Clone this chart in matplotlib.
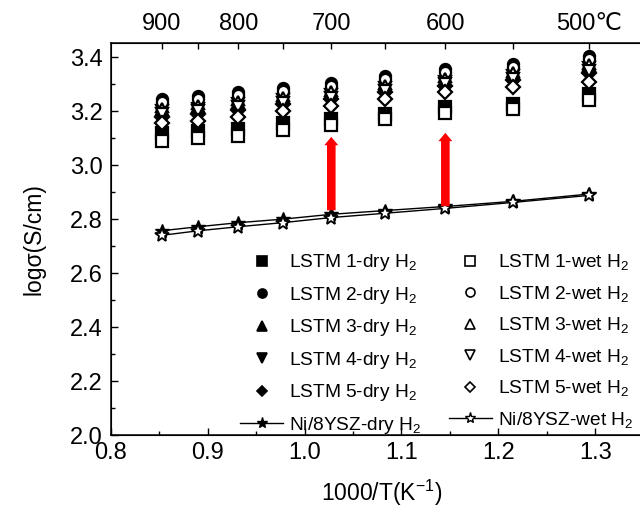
import matplotlib
matplotlib.use("Agg")
import matplotlib.pyplot as plt
from matplotlib.lines import Line2D
import numpy as np

plt.rcParams['font.family'] = ['Liberation Sans', 'DejaVu Sans']
plt.rcParams['mathtext.fontset'] = 'custom'
plt.rcParams['mathtext.rm'] = 'Liberation Sans'
plt.rcParams['mathtext.it'] = 'Liberation Sans:italic'

# Temperatures (deg C) of the measurements
temps_c = [900, 850, 800, 750, 700, 650, 600, 550, 500]
top_label_temps = [900, 800, 700, 600, 500]
top_labels = ['900', '800', '700', '600', '500℃']

# log(sigma) values (S/cm)
lstm1_dry = [3.120, 3.125, 3.135, 3.155, 3.170, 3.190, 3.215, 3.225, 3.265]
lstm1_wet = [3.090, 3.100, 3.110, 3.130, 3.150, 3.170, 3.195, 3.210, 3.240]
lstm2_dry = [3.245, 3.255, 3.270, 3.285, 3.305, 3.330, 3.355, 3.375, 3.405]
lstm2_wet = [3.235, 3.245, 3.260, 3.275, 3.295, 3.320, 3.345, 3.365, 3.395]
lstm3_dry = [3.220, 3.230, 3.245, 3.260, 3.280, 3.305, 3.330, 3.350, 3.380]
lstm3_wet = [3.210, 3.220, 3.235, 3.250, 3.270, 3.295, 3.320, 3.340, 3.370]
lstm4_dry = [3.200, 3.210, 3.225, 3.240, 3.260, 3.285, 3.310, 3.330, 3.360]
lstm4_wet = [3.190, 3.200, 3.215, 3.230, 3.250, 3.275, 3.300, 3.320, 3.350]
lstm5_dry = [3.180, 3.190, 3.205, 3.225, 3.245, 3.270, 3.295, 3.315, 3.340]
lstm5_wet = [3.155, 3.165, 3.180, 3.200, 3.220, 3.245, 3.270, 3.290, 3.310]
ni_dry = [2.757, 2.772, 2.787, 2.800, 2.818, 2.832, 2.847, 2.866, 2.893]
ni_wet = [2.740, 2.757, 2.772, 2.787, 2.806, 2.822, 2.840, 2.862, 2.888]

# red arrows (at 700 and 600 C)
arrow_temps = [700, 600]
arrow_from = [2.833, 2.848]
arrow_to = [3.105, 3.120]

x = 1000.0 / (np.array(temps_c) + 273.15)

fig = plt.figure(figsize=(6.4, 5.21), dpi=100)
ax = fig.add_axes([0.173, 0.165, 0.848, 0.752])

ms = 8
series = [
    (lstm1_dry, 's', 'k', 'LSTM 1-dry H$_2$'),
    (lstm2_dry, 'o', 'k', 'LSTM 2-dry H$_2$'),
    (lstm3_dry, '^', 'k', 'LSTM 3-dry H$_2$'),
    (lstm4_dry, 'v', 'k', 'LSTM 4-dry H$_2$'),
    (lstm5_dry, 'D', 'k', 'LSTM 5-dry H$_2$'),
    (lstm1_wet, 's', 'w', 'LSTM 1-wet H$_2$'),
    (lstm2_wet, 'o', 'w', 'LSTM 2-wet H$_2$'),
    (lstm3_wet, '^', 'w', 'LSTM 3-wet H$_2$'),
    (lstm4_wet, 'v', 'w', 'LSTM 4-wet H$_2$'),
    (lstm5_wet, 'D', 'w', 'LSTM 5-wet H$_2$'),
]
for vals, m, fc, lab in series:
    s = ms * (0.85 if m == 'D' else 1.0)
    ax.plot(x, vals, linestyle='none', marker=m, markersize=s,
            markerfacecolor=fc, markeredgecolor='k', markeredgewidth=1.6)

ax.plot(x, ni_dry, color='k', lw=1.0, marker='*', markersize=10.5,
        markerfacecolor='k', markeredgecolor='k', markeredgewidth=1.0)
ax.plot(x, ni_wet, color='k', lw=1.0, marker='*', markersize=10.5,
        markerfacecolor='w', markeredgecolor='k', markeredgewidth=1.3)

for t, y0, y1 in zip(arrow_temps, arrow_from, arrow_to):
    xa = 1000.0 / (t + 273.15)
    ax.annotate('', xy=(xa, y1), xytext=(xa, y0),
                arrowprops=dict(arrowstyle='simple,head_length=0.6,head_width=1.0,tail_width=0.62',
                                mutation_scale=10, color='#ff0000', lw=0, shrinkA=0, shrinkB=0))

ax.set_xlim(0.8, 1.36)
ax.set_ylim(2.0, 3.452)
ax.set_xticks([0.8, 0.9, 1.0, 1.1, 1.2, 1.3])
ax.set_xticks(np.arange(0.85, 1.36, 0.1), minor=True)
ax.set_yticks(np.arange(2.0, 3.41, 0.2))
ax.set_yticks(np.arange(2.1, 3.41, 0.2), minor=True)
ax.xaxis.set_major_formatter(matplotlib.ticker.FormatStrFormatter('%.1f'))
ax.yaxis.set_major_formatter(matplotlib.ticker.FormatStrFormatter('%.1f'))
ax.tick_params(which='both', direction='in', labelsize=17, top=False, right=False)
ax.tick_params(which='major', length=5, width=1)
ax.tick_params(which='minor', length=3, width=1)
ax.tick_params(axis='x', pad=5)
ax.tick_params(axis='y', pad=6)
for sp in ax.spines.values():
    sp.set_linewidth(1.1)

ax.set_xlabel('1000/T(K$^{-1}$)', fontsize=16.5, labelpad=10)
ax.set_ylabel('logσ(S/cm)', fontsize=16.5, labelpad=17)

# top temperature axis
ax2 = ax.twiny()
ax2.set_xlim(ax.get_xlim())
ax2.set_xticks(x)
lab_map = dict(zip(top_label_temps, top_labels))
ax2.set_xticklabels([lab_map.get(t, '') for t in temps_c])
ax2.tick_params(axis='x', direction='in', length=4, width=1, labelsize=17, pad=6)

# legend
handles = []
for vals, m, fc, lab in series[:5]:
    handles.append(Line2D([], [], linestyle='none', marker=m, markersize=6.5 * (0.85 if m == 'D' else 1),
                          markerfacecolor=fc, markeredgecolor='k', markeredgewidth=1.2, label=lab))
handles.append(Line2D([], [], color='k', lw=1.0, marker='*', markersize=8,
                      markerfacecolor='k', markeredgecolor='k', label='Ni/8YSZ-dry H$_2$'))
for vals, m, fc, lab in series[5:]:
    handles.append(Line2D([], [], linestyle='none', marker=m, markersize=6.5 * (0.85 if m == 'D' else 1),
                          markerfacecolor=fc, markeredgecolor='k', markeredgewidth=1.2, label=lab))
handles.append(Line2D([], [], color='k', lw=1.0, marker='*', markersize=8,
                      markerfacecolor='w', markeredgecolor='k', label='Ni/8YSZ-wet H$_2$'))

leg = ax.legend(handles=handles, ncol=2, loc='lower left', bbox_to_anchor=(0.225, -0.022),
                frameon=False, fontsize=13.8, handlelength=2.2, handletextpad=0.35,
                columnspacing=1.45, labelspacing=0.6, borderaxespad=0)

fig.savefig('out.png', dpi=100)
